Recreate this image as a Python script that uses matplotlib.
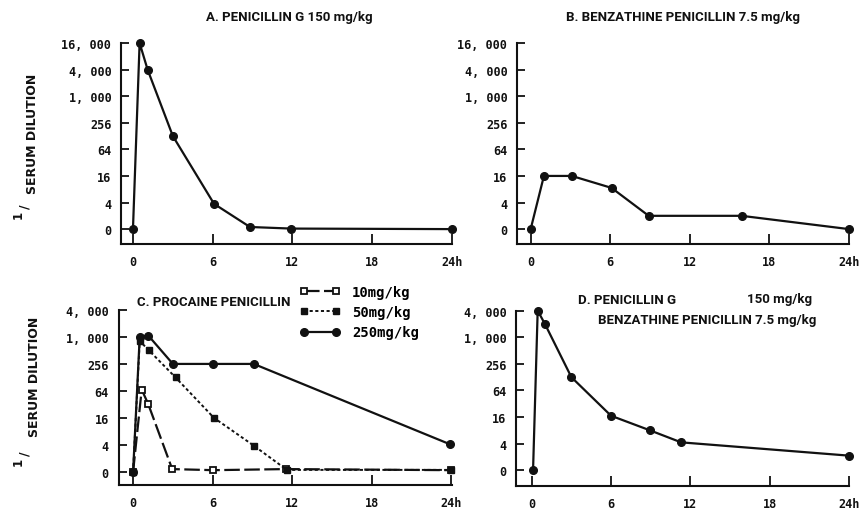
import matplotlib.pyplot as plt

W, H = 867, 510

# y axis is a dilution scale with equal steps; values are given in steps (0 = "0", 1 = "4", ...)
Y_LABELS_TOP = ["0", "4", "16", "64", "256", "1, 000", "4, 000", "16, 000"]
Y_LABELS_BOTTOM = Y_LABELS_TOP[:7]
X_TICKS = [0, 6, 12, 18, 24]
X_LABELS = ["0", "6", "12", "18", "24h"]

# A. penicillin G 150 mg/kg
a_hours = [0, 0.5, 1.1, 3.0, 6.1, 8.8, 11.9, 24]
a_level = [0, 7, 6, 3.5, 0.95, 0.08, 0.02, 0]

# B. benzathine penicillin 7.5 mg/kg
b_hours = [0, 1.0, 3.1, 6.1, 8.9, 15.9, 24]
b_level = [0, 2, 2, 1.55, 0.5, 0.5, 0]

# C. procaine penicillin, three doses
c10_hours = [0, 0.65, 1.15, 2.95, 6.05, 11.5, 24]
c10_level = [0, 3.05, 2.5, 0.1, 0.06, 0.1, 0.06]
c50_hours = [0, 0.5, 1.2, 3.2, 6.1, 9.1, 11.6, 24]
c50_level = [0, 4.85, 4.5, 3.5, 2.0, 0.97, 0.07, 0.07]
c250_hours = [0, 0.5, 1.15, 3.0, 6.05, 9.1, 23.9]
c250_level = [0, 5, 5.05, 4.0, 4.0, 4.0, 1.02]

# D. penicillin G + benzathine penicillin
d_hours = [0.1, 0.45, 1.0, 3.0, 6.0, 8.95, 11.3, 24]
d_level = [0, 6, 5.5, 3.5, 2.05, 1.5, 1.05, 0.55]

INK = "#111111"
TICK_FONT = {"family": "DejaVu Sans Mono", "weight": "bold", "size": 8.5}
TITLE_FONT = {"family": "Roboto", "weight": "bold", "size": 9.5}


def px_axes(fig, left, top, right, bottom):
    """axes placed by pixel box of the reference"""
    return fig.add_axes([left / W, 1 - bottom / H, (right - left) / W, (bottom - top) / H])


def style_axes(ax, xlim, ylim, ylabels):
    ax.set_xlim(*xlim)
    ax.set_ylim(*ylim)
    for s in ["top", "right"]:
        ax.spines[s].set_visible(False)
    for s in ["left", "bottom"]:
        ax.spines[s].set_linewidth(1.5)
        ax.spines[s].set_color(INK)
    ax.spines["left"].set_bounds(ylim[0], len(ylabels) - 1)
    ax.set_xticks(X_TICKS)
    ax.set_xticklabels(X_LABELS, fontdict=TICK_FONT)
    ax.set_yticks(range(len(ylabels)))
    ax.set_yticklabels(ylabels, fontdict=TICK_FONT)
    ax.tick_params(axis="x", direction="in", length=7, width=1.3, pad=8, colors=INK)
    ax.tick_params(axis="y", direction="in", length=5.5, width=1.3, pad=7, colors=INK)
    ax.patch.set_alpha(0)


def plot_series(ax, hours, level, **kw):
    style = dict(color=INK, lw=1.6, marker="o", ms=5.5, clip_on=False)
    style.update(kw)
    ax.plot(hours, level, **style)


def y_label(fig, cx, cy):
    fig.text(cx / W, 1 - cy / H, "SERUM DILUTION", rotation=90, ha="center", va="center",
             family="DejaVu Sans", weight="bold", size=9, color=INK)


def y_label_one(fig, x1, y1):
    fig.text(x1 / W, 1 - y1 / H, "1", rotation=90, ha="center", va="center",
             family="DejaVu Sans", weight="bold", size=8.5, color=INK)
    fig.text((x1 + 7) / W, 1 - (y1 - 8) / H, "/", rotation=90, ha="center", va="center",
             family="DejaVu Sans", weight="bold", size=9, color=INK)


fig = plt.figure(figsize=(W / 100, H / 100), dpi=100)
fig.patch.set_facecolor("white")

# panel A
ax_a = px_axes(fig, 121, 44, 452, 245)
style_axes(ax_a, (-0.9, 24), (-0.56, 7), Y_LABELS_TOP)
plot_series(ax_a, a_hours, a_level)
fig.text(289 / W, 1 - 18 / H, "A. PENICILLIN G 150 mg/kg", ha="center", va="center",
         fontdict=TITLE_FONT, color=INK)

# panel B
ax_b = px_axes(fig, 517, 44, 849, 245)
style_axes(ax_b, (-1.03, 24), (-0.56, 7), Y_LABELS_TOP)
plot_series(ax_b, b_hours, b_level)
fig.text(683 / W, 1 - 18 / H, "B. BENZATHINE PENICILLIN 7.5 mg/kg", ha="center", va="center",
         fontdict=TITLE_FONT, color=INK)

# panel C
ax_c = px_axes(fig, 118.5, 311, 452, 486)
style_axes(ax_c, (-1.1, 24.05), (-0.49, 6), Y_LABELS_BOTTOM)
plot_series(ax_c, c10_hours, c10_level, marker="s", ms=5, mfc="white", mew=1.3,
            dashes=(7, 2), label="10mg/kg", zorder=3)
plot_series(ax_c, c50_hours, c50_level, marker="s", ms=4.5, lw=1.4,
            dashes=(1.6, 1.3), label="50mg/kg", zorder=4)
plot_series(ax_c, c250_hours, c250_level, label="250mg/kg", zorder=5)
fig.text(137 / W, 1 - 303 / H, "C. PROCAINE PENICILLIN", ha="left", va="center",
         fontdict=TITLE_FONT, color=INK)
leg = ax_c.legend(loc="upper left", bbox_to_anchor=(300 / W, 1 - 286 / H),
                  bbox_transform=fig.transFigure, frameon=False, numpoints=2,
                  handlelength=2.9, handletextpad=0.85, labelspacing=0.45,
                  borderpad=0, borderaxespad=0,
                  prop={"family": "DejaVu Sans Mono", "weight": "bold", "size": 10})

# panel D
ax_d = px_axes(fig, 516, 311.7, 849, 486.7)
style_axes(ax_d, (-1.19, 24), (-0.58, 6), Y_LABELS_BOTTOM)
plot_series(ax_d, d_hours, d_level)
fig.text(578 / W, 1 - 300 / H, "D. PENICILLIN G", ha="left", va="center",
         fontdict=TITLE_FONT, color=INK)
fig.text(812 / W, 1 - 300 / H, "150 mg/kg", ha="right", va="center",
         fontdict=TITLE_FONT, color=INK)
fig.text(598 / W, 1 - 321 / H, "BENZATHINE PENICILLIN 7.5 mg/kg", ha="left", va="center",
         fontdict=TITLE_FONT, color=INK)

# shared axis titles on the left
y_label(fig, 32, 134)
y_label_one(fig, 18, 215)
y_label(fig, 34, 377)
y_label_one(fig, 18, 462)

fig.savefig("out.png", dpi=100, facecolor="white")
